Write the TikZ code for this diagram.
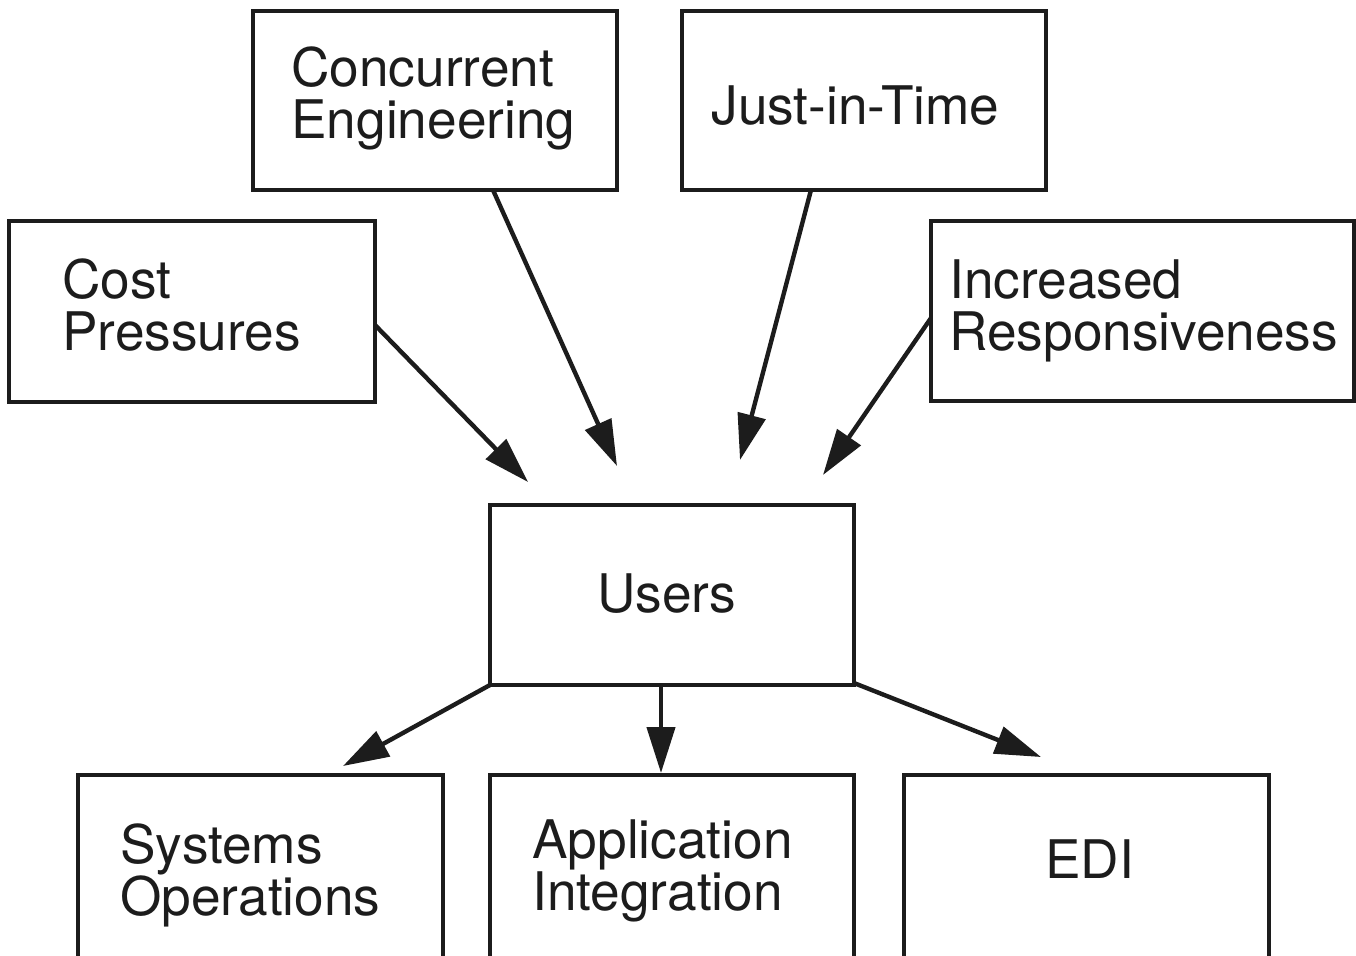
\documentclass[tikz,border=0pt]{standalone}
\usepackage{fontspec}
\setmainfont{TeX Gyre Heros}
\usetikzlibrary{arrows.meta,calc}
\definecolor{ink}{RGB}{28,28,28}
\begin{document}
\begin{tikzpicture}[x=0.5pt,y=-0.5pt,
  box/.style={draw=ink, line width=1.8pt, inner sep=0pt, outer sep=0pt},
  lbl/.style={anchor=base west, inner sep=0pt, align=left, text=ink,
              font=\fontsize{26.6}{26}\selectfont},
  arr/.style={draw=ink, line width=2.2pt, -{Triangle[length=23pt,width=14pt]}}]
\useasboundingbox (0,0) rectangle (1356,955);
\clip (0,0) rectangle (1356,955);
% boxes
\node[box, minimum width=182pt, minimum height=89.5pt] (conc) at (435,100.5) {};
\node[box, minimum width=182pt, minimum height=89.5pt] (jit) at (864,100.5) {};
\node[box, minimum width=183pt, minimum height=90.5pt] (cost) at (192,311.5) {};
\node[box, minimum width=211.5pt, minimum height=90pt] (incr) at (1142.5,311) {};
\node[box, minimum width=182pt, minimum height=90pt] (users) at (672,595) {};
\node[box, minimum width=182.5pt, minimum height=93.5pt] (sysop) at (260.5,868.5) {};
\node[box, minimum width=182pt, minimum height=93.5pt] (app) at (672,868.5) {};
\node[box, minimum width=182.5pt, minimum height=93.5pt] (edi) at (1086.5,868.5) {};
% labels (base = baseline of the last line)
\node[lbl] (concT) at (291,138) {Concurrent\\Engineering};
\node[lbl] (jitT) at (711,124) {Just-in-Time};
\node[lbl] (costT) at (62,350) {Cost\\Pressures};
\node[lbl] (incrT) at (949,350) {Increased\\Responsiveness};
\node[lbl] (usersT) at (597,612) {Users};
\node[lbl] (sysopT) at (120,915) {Systems\\Operations};
\node[lbl] (appT) at (532,910) {Application\\Integration};
\node[lbl] (ediT) at (1045,878) {EDI};
% free ends
\coordinate (eCost) at (528,482);
\coordinate (eConc) at (617,466);
\coordinate (eJit) at (740,460);
\coordinate (eIncr) at (823,475);
\coordinate (eSys) at (343,766);
\coordinate (eApp) at (661,773);
\coordinate (eEdi) at (1041,757);
% connectors
\draw[arr] ($(cost.east)+(0,13.5)$) -- (eCost);
\draw[arr] ($(conc.south)+(58,0)$) -- (eConc);
\draw[arr] ($(jit.south)+(-53,0)$) -- (eJit);
\draw[arr] ($(incr.west)+(0,7)$) -- (eIncr);
\draw[arr] (users.south west) -- (eSys);
\draw[arr] ($(users.south)+(-11,0)$) -- (eApp);
\draw[arr] ($(users.south east)+(0,-2)$) -- (eEdi);
\end{tikzpicture}
\end{document}
